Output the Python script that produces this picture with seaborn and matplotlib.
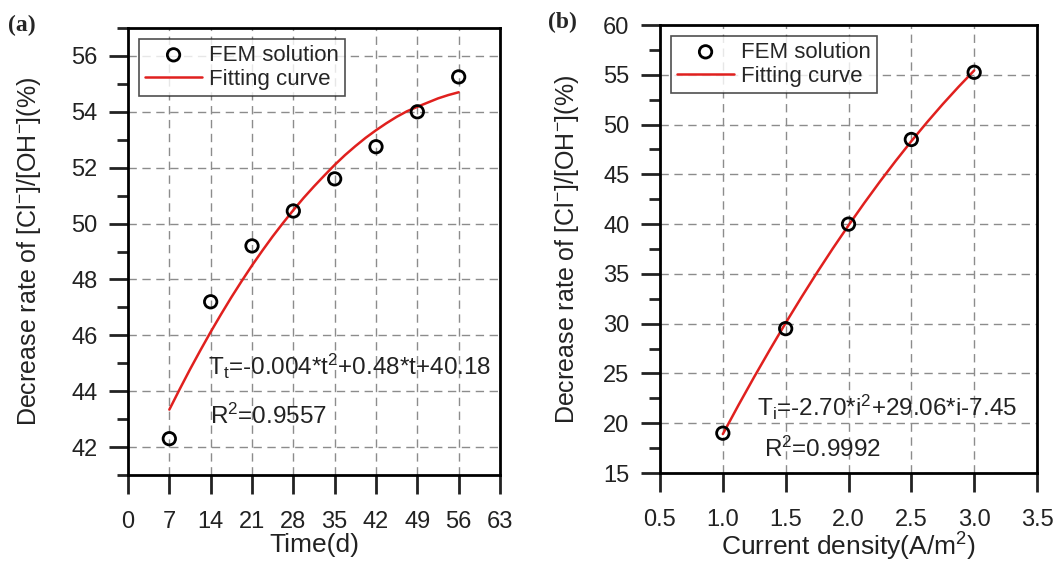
import numpy as np
import pandas as pd
import matplotlib
matplotlib.use("Agg")
import matplotlib.pyplot as plt
import seaborn as sns
from matplotlib.ticker import MultipleLocator, FormatStrFormatter

# data
time_d = [7, 14, 21, 28, 35, 42, 49, 56]
fem_time = [42.3, 47.2, 49.2, 50.45, 51.6, 52.75, 54.0, 55.25]
fit_time_x = [7, 8.75, 10.5, 12.25, 14, 15.75, 17.5, 19.25, 21, 22.75, 24.5, 26.25,
              28, 29.75, 31.5, 33.25, 35, 36.75, 38.5, 40.25, 42, 43.75, 45.5,
              47.25, 49, 50.75, 52.5, 54.25, 56]
fit_time_y = [43.34, 44.07, 44.78, 45.46, 46.12, 46.75, 47.36, 47.94, 48.5, 49.03,
              49.54, 50.02, 50.48, 50.92, 51.33, 51.72, 52.1, 52.45, 52.77, 53.07,
              53.34, 53.59, 53.82, 54.02, 54.18, 54.33, 54.48, 54.6, 54.7]

current = [1.0, 1.5, 2.0, 2.5, 3.0]
fem_current = [19.0, 29.5, 40.0, 48.5, 55.25]
fit_cur_x = [1.0, 1.125, 1.25, 1.375, 1.5, 1.625, 1.75, 1.875, 2.0, 2.125, 2.25,
             2.375, 2.5, 2.625, 2.75, 2.875, 3.0]
fit_cur_y = [18.91, 21.83, 24.66, 27.4, 30.07, 32.64, 35.14, 37.55, 39.87, 42.11,
             44.27, 46.34, 48.33, 50.23, 52.05, 53.78, 55.43]

sns.set_style("ticks")
plt.rcParams['font.family'] = ['Liberation Sans', 'DejaVu Sans']
plt.rcParams['mathtext.default'] = 'regular'

fig = plt.figure(figsize=(10.6, 5.64), dpi=100)
ax1 = fig.add_axes([128/1060, 1-475/564, 372/1060, 447/564])
ax2 = fig.add_axes([660/1060, 1-473/564, 377/1060, 448/564])

ylab = 'Decrease rate of [Cl$^{-}$]/[OH$^{-}$](%)'
red = '#e0201e'


def style_axis(ax):
    for s in ax.spines.values():
        s.set_linewidth(2)
        s.set_color('black')
    ax.tick_params(which='major', length=14, width=2, labelsize=17, colors='#222222')
    ax.tick_params(which='minor', length=8, width=2)
    ax.tick_params(axis='x', pad=12)
    ax.tick_params(axis='y', pad=8)
    ax.grid(True, which='major', linestyle=(0, (6, 4)), color='#8c8c8c', linewidth=1)
    ax.set_axisbelow(True)


def add_legend(ax):
    leg = ax.legend(loc='upper left', fontsize=16, frameon=True, fancybox=False,
                    edgecolor='#222222', borderaxespad=0.5, handlelength=2.6,
                    labelspacing=0.15, borderpad=0.25, handletextpad=0.3)
    leg.get_frame().set_linewidth(1.2)


# (a)
df_a = pd.DataFrame({'t': time_d, 'v': fem_time})
sns.scatterplot(data=df_a, x='t', y='v', ax=ax1, s=80, facecolor='none',
                edgecolor='black', linewidth=2, label='FEM solution', zorder=3)
sns.lineplot(x=fit_time_x, y=fit_time_y, ax=ax1, color=red, linewidth=1.8,
             label='Fitting curve')
ax1.set_xlim(0, 63)
ax1.set_ylim(41, 57)
ax1.xaxis.set_major_locator(MultipleLocator(7))
ax1.yaxis.set_major_locator(MultipleLocator(2))
ax1.yaxis.set_minor_locator(MultipleLocator(1))
style_axis(ax1)
ax1.set_xlabel('Time(d)', fontsize=19, labelpad=0, color='#222222')
ax1.set_ylabel(ylab, fontsize=18, labelpad=20, color='#222222')
ax1.text(13.6, 44.9, 'T$_t$=-0.004*t$^2$+0.48*t+40.18', fontsize=17.5, va='center',
         color='#222222')
ax1.text(13.9, 43.1, 'R$^2$=0.9557', fontsize=17.5, va='center', color='#222222')
add_legend(ax1)

# (b)
df_b = pd.DataFrame({'i': current, 'v': fem_current})
sns.scatterplot(data=df_b, x='i', y='v', ax=ax2, s=80, facecolor='none',
                edgecolor='black', linewidth=2, label='FEM solution', zorder=3)
sns.lineplot(x=fit_cur_x, y=fit_cur_y, ax=ax2, color=red, linewidth=1.8,
             label='Fitting curve')
ax2.set_xlim(0.5, 3.5)
ax2.set_ylim(15, 60)
ax2.xaxis.set_major_locator(MultipleLocator(0.5))
ax2.xaxis.set_major_formatter(FormatStrFormatter('%.1f'))
ax2.yaxis.set_major_locator(MultipleLocator(5))
ax2.yaxis.set_minor_locator(MultipleLocator(2.5))
style_axis(ax2)
ax2.set_xlabel('Current density(A/m$^2$)', fontsize=19, labelpad=0, color='#222222')
ax2.set_ylabel(ylab, fontsize=18, labelpad=16, color='#222222')
ax2.text(1.27, 21.6, 'T$_i$=-2.70*i$^2$+29.06*i-7.45', fontsize=17.5, va='center',
         color='#222222')
ax2.text(1.33, 17.4, 'R$^2$=0.9992', fontsize=17.5, va='center', color='#222222')
add_legend(ax2)

fig.text(8/1060, 1-25/564, '(a)', fontsize=17, fontweight='bold',
         family='Liberation Serif', va='center')
fig.text(548/1060, 1-22/564, '(b)', fontsize=17, fontweight='bold',
         family='Liberation Serif', va='center')

fig.savefig('out.png', dpi=100)
